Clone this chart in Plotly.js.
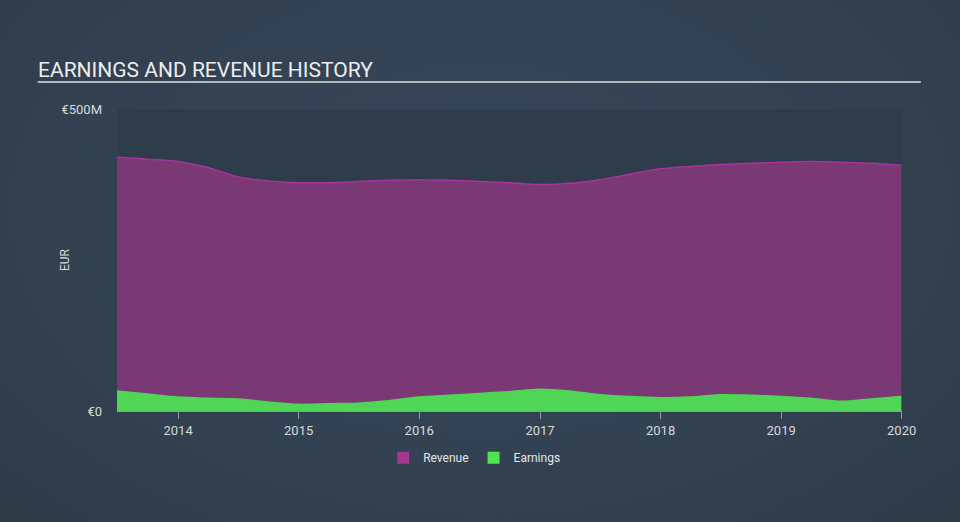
<!DOCTYPE html>
<html>
<head>
<meta charset="utf-8">
<script src="https://cdn.plot.ly/plotly-3.0.1.min.js"></script>
<style>
html,body{margin:0;padding:0;width:960px;height:522px;overflow:hidden;}
body{background:radial-gradient(ellipse at 50% 40%, #36475a 0%, #334252 55%, #2f3a47 100%);}
#chart{width:960px;height:522px;}
</style>
</head>
<body>
<div id="chart"></div>
<script>
const dates = ['2013-06-30','2013-09-30','2013-12-31','2014-03-31','2014-06-30','2014-09-30','2014-12-31',
  '2015-03-31','2015-06-30','2015-09-30','2015-12-31','2016-03-31','2016-06-30','2016-09-30','2016-12-31',
  '2017-03-31','2017-06-30','2017-09-30','2017-12-31','2018-03-31','2018-06-30','2018-09-30','2018-12-31',
  '2019-03-31','2019-06-30','2019-09-30','2019-12-31'];
const revenue = [420,417,413,403,388,381,378,378,380,382,383,382,380,378,375,377,383,392,401,405,408,410,412,413,412,410,407];
const earnings = [33,28,23,21,20,15,11,12,13,17,23,26,29,32,36,33,27,24,22,23,27,26,24,21,16,20,24];
const yTickVals = [0,500];
const yTickText = ['€0','€500M'];
const xTickVals = ['2014-01-01','2015-01-01','2016-01-01','2017-01-01','2018-01-01','2019-01-01','2020-01-01'];
const xTickText = ['2014','2015','2016','2017','2018','2019','2020'];
const revColor = '#a8339a', revFill = '#7a3874', earnColor = '#4fd656';

const traces = [
  {x: dates, y: revenue, name: 'Revenue', type: 'scatter', mode: 'lines', showlegend: false,
   line: {color: revColor, width: 1.5, shape: 'spline', smoothing: 0.8},
   fill: 'tozeroy', fillcolor: revFill},
  {x: dates, y: earnings, name: 'Earnings', type: 'scatter', mode: 'lines', showlegend: false,
   line: {color: earnColor, width: 1.5, shape: 'spline', smoothing: 0.8},
   fill: 'tozeroy', fillcolor: earnColor},
  {x: [null], y: [null], name: 'Revenue', type: 'bar', marker: {color: '#a3378f'}, showlegend: true},
  {x: [null], y: [null], name: 'Earnings', type: 'bar', marker: {color: '#4fe350'}, showlegend: true}
];

const layout = {
  width: 960, height: 522,
  paper_bgcolor: 'rgba(0,0,0,0)',
  plot_bgcolor: '#2e3c4b',
  margin: {l: 117, r: 58, t: 109, b: 111},
  font: {family: 'Roboto, "Open Sans", sans-serif', color: '#d6dade', size: 12},
  showlegend: true,
  legend: {orientation: 'h', x: 0.455, xanchor: 'center', y: -0.155, yanchor: 'middle',
    font: {size: 12, color: '#e4e6e8'}, itemwidth: 30, bgcolor: 'rgba(0,0,0,0)'},
  xaxis: {type: 'date', range: ['2013-06-30','2020-01-02'], tickvals: xTickVals, ticktext: xTickText,
    showgrid: false, zeroline: false, showline: true, linecolor: '#8d99a6', linewidth: 1,
    ticks: 'outside', ticklen: 7, tickcolor: '#8d99a6', tickwidth: 1,
    tickfont: {size: 13, color: '#d6dade'}, fixedrange: true},
  yaxis: {range: [0, 500], tickvals: yTickVals, ticktext: yTickText, showgrid: false, zeroline: false,
    showline: false, ticks: '', ticklabelstandoff: 14,
    tickfont: {size: 13, color: '#d6dade'}, fixedrange: true},
  annotations: [
    {text: 'EARNINGS AND REVENUE HISTORY', xref: 'paper', yref: 'paper', x: -0.1, xanchor: 'left',
     y: 1.0, yanchor: 'bottom', showarrow: false, xshift: -3, yshift: 25,
     font: {size: 21, color: '#eceef0', family: 'Roboto, sans-serif'}},
    {text: 'EUR', xref: 'paper', yref: 'paper', x: 0, y: 0.5, xanchor: 'center', yanchor: 'middle',
     textangle: -90, showarrow: false, xshift: -52, font: {size: 12, color: '#d6dade'}}
  ],
  shapes: [
    {type: 'line', xref: 'paper', yref: 'paper', x0: -0.101, x1: 1.024, y0: 1, y1: 1,
     line: {color: '#b3b8be', width: 2}, layer: 'above'}
  ]
};
layout.shapes[0].y0 = layout.shapes[0].y1 = 1 + (109 - 82) / 302;
Plotly.newPlot('chart', traces, layout, {displayModeBar: false, staticPlot: true});
</script>
</body>
</html>
